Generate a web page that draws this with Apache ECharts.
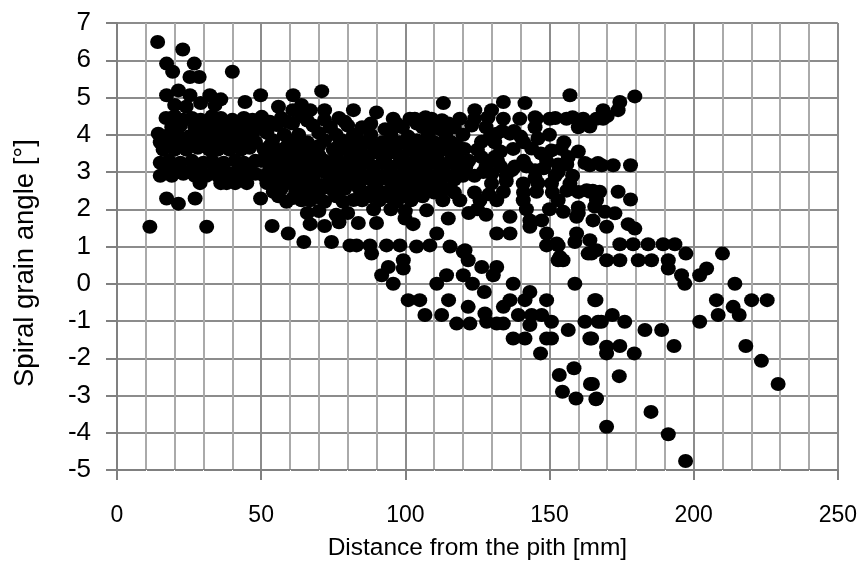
<!DOCTYPE html>
<html>
<head>
<meta charset="utf-8">
<script src="https://cdn.jsdelivr.net/npm/echarts@6/dist/echarts.min.js"></script>
<style>html,body{margin:0;padding:0;background:#fff}#c{width:860px;height:578px}</style>
</head>
<body>
<div id="c"></div>
<script>
// Tick settings
const xTicks = {min: 0, max: 250, step: 50, minorSplits: 5};
const yTicks = {min: -5, max: 7, step: 1};
const xTitle = 'Distance from the pith [mm]';
const yTitle = 'Spiral grain angle [°]';

// Points near the pith (0-50 mm)
const nearPith = [
[14.1,6.49],[22.8,6.29],[17.2,5.91],[19.3,5.69],[26.8,5.91],[25.3,5.55],[28.5,5.55],[40,5.69],
[17.2,5.06],[21.3,5.19],[25.3,5.06],[32.2,5.06],[44.4,4.88],
[20,4.8],[24,4.75],[29,4.85],[34,4.8],[36,4.95],
[17,4.45],[20,4.5],[23,4.4],[26,4.45],[29,4.4],[33,4.5],[36,4.45],[40,4.4],[44,4.45],[47,4.4],
[19,4.2],[22,4.25],[27,4.2],[31,4.2],[35,4.25],[38,4.2],[42,4.2],[46,4.25],[49,4.2],
[14.3,4.03],[18,4.0],[21,4.0],[25,3.95],[28,4.0],[32,4.0],[36,4.0],[39,3.95],[43,4.0],[47,4.0],
[15,3.8],[19,3.85],[23,3.8],[26,3.8],[30,3.85],[34,3.8],[37,3.8],[41,3.85],[45,3.8],[48,3.8],
[16,3.6],[20,3.6],[24,3.6],[28,3.65],[32,3.6],[35,3.6],[39,3.6],[43,3.6],[46,3.65],
[15,3.25],[18,3.3],[22,3.25],[26,3.3],[30,3.25],[33,3.3],[37,3.25],[41,3.3],[44,3.25],[48,3.3],
[17,3.05],[21,3.1],[25,3.0],[29,3.05],[34,3.1],[38,3.0],[42,3.05],[46,3.1],
[15,2.9],[19,2.9],[23,2.95],[27,2.9],[31,2.9],[35,2.9],[40,2.9],[44,2.9],[48,2.95],
[28.8,2.7],[36,2.7],[38,2.7],[41,2.7],[45,2.7],
[17.2,2.29],[21.3,2.15],[27.1,2.29],[49.8,2.29],[11.4,1.53],[31.1,1.53]
];

// Points 50-83 mm
const innerWood = [
[49.8,5.06],[61.1,5.06],[71,5.17],
[61,4.66],[67,4.66],[72,4.66],[82,4.66],[56,4.75],[64,4.8],
[50.2,4.48],[57,4.45],[64,4.5],[77,4.45],
[53,4.35],[59,4.35],[66,4.38],[72,4.4],[79,4.35],
[55.4,4.26],[60.9,4.3],[68,4.25],[74,4.2],[80,4.25],
[52,4.05],[58,4.0],[63,4.0],[70,4.05],[76,4.0],[82,4.0],
[54,3.85],[60,3.85],[66,3.8],[72,3.85],[78,3.85],
[53,3.7],[59,3.7],[64,3.72],[70,3.7],[77,3.72],[82,3.75],
[51,3.6],[57,3.6],[62,3.55],[68,3.6],[75,3.6],[80,3.6],
[53,3.45],[59,3.45],[64,3.45],[70,3.45],[76,3.45],[81,3.45],
[50,3.3],[55,3.35],[61,3.3],[66,3.3],[72,3.3],[78,3.25],[83,3.3],
[57,3.2],[63,3.2],[69,3.2],[74,3.2],[80,3.2],
[53,3.1],[59,3.1],[64,3.05],[70,3.1],[76,3.1],[81,3.1],
[55,3.0],[61,3.0],[66,3.0],[72,3.0],[78,3.0],
[51,2.9],[57,2.9],[63,2.9],[68,2.85],[74,2.9],[79,2.9],
[55,2.8],[62,2.8],[68,2.8],[74,2.8],[80,2.8],
[52,2.7],[60,2.7],[66,2.7],[71,2.65],[77,2.7],[82,2.7],
[57,2.55],[65,2.55],[72,2.58],[79,2.55],
[54.2,2.47],[62,2.47],[69,2.45],[75,2.5],
[56,2.35],[61,2.3],[70,2.32],[76,2.35],
[58.8,2.2],[64,2.24],[67,2.24],[72,2.2],[78.4,2.2],[82,2.25],
[66,1.9],[70,1.95],[76,1.85],[80,1.9],
[67,1.6],[72,1.55],[77,1.65],
[53.8,1.55],[59.4,1.35],[64.8,1.12],[74.4,1.12],[80.8,1.03]
];

// Points 83-122 mm
const middleWood = [
[90,4.6],[95.8,4.43],[101.6,4.43],[103.3,4.43],[109.1,4.43],[118.9,4.43],[113.2,4.85],[107,4.47],[112.7,4.39],
[88,4.3],[97,4.3],[104,4.3],[110,4.28],[115,4.3],
[85,4.2],[93,4.15],[99,4.2],[106,4.2],[112,4.15],[117,4.2],
[83,4.0],[88,4.0],[95,4.0],[101,3.95],[108,4.0],[114,4.0],[120,4.0],
[86,3.8],[92,3.8],[98,3.8],[104,3.85],[110,3.8],[116,3.8],
[89,3.7],[95,3.7],[101,3.7],[107,3.7],[113,3.72],[118,3.7],
[84,3.6],[90,3.6],[96,3.6],[102,3.6],[107,3.55],[113,3.6],
[85,3.5],[91,3.5],[97,3.5],[104,3.5],[110,3.5],[116,3.5],
[87,3.4],[93,3.4],[99,3.4],[105,3.4],[111,3.4],[118,3.4],
[86,3.25],[92,3.25],[98,3.25],[103,3.28],[109,3.25],[115,3.25],
[84,3.15],[89,3.15],[95,3.15],[101,3.15],[106,3.1],[113,3.15],[118,3.15],
[83,3.0],[89,3.0],[95,3.0],[100,3.02],[106,3.0],[112,3.0],[118,3.0],
[86,2.9],[92,2.9],[98,2.9],[103,2.95],[109,2.9],[115,2.9],[120,2.9],
[88,2.8],[94,2.8],[99,2.8],[105,2.8],[110,2.8],[117,2.8],
[84,2.7],[90,2.7],[96,2.7],[101,2.65],[107,2.7],[112,2.7],
[84,2.55],[90,2.55],[96,2.55],[102,2.55],[108,2.58],[114,2.55],
[87,2.45],[93,2.45],[99,2.5],[104,2.45],[110,2.45],[117,2.45],
[88,2.35],[94,2.35],[100,2.35],[106,2.35],
[85,2.24],[91,2.24],[97,2.2],[102,2.24],[113,2.24],[118.9,2.24],
[89,2.0],[95,2.0],[100,1.95],[107.4,1.97],[114.9,1.75],
[83.7,1.63],[90,1.63],[99.9,1.75],[102.7,1.6],[110.9,1.35],
[83.1,1.03],[87.7,1.03],[93.5,1.03],[98.1,1.03],[103.9,1.0],[108.5,1.03],[115.5,1.0],[120.7,0.9],
[88.3,0.81],[99.3,0.63],[99.3,0.41],[94.1,0.45],[91.8,0.23],[95.8,0.0],
[114.3,0.23],[110.9,0.0],[120.1,0.23],[120.1,0.86],[121.8,0.63],
[101,-0.44],[105,-0.44],[106.8,-0.84],[112.6,-0.84],[115,-0.44],[117.8,-1.07]
];

// Points 122-167 mm
const outerWood = [
[134,4.88],[141.5,4.85],[157.1,5.06],[124.1,4.66],[129.9,4.66],
[128.7,4.47],[145,4.47],[152,4.45],[158,4.47],
[124,4.43],[134,4.43],[139.7,4.43],[145.5,4.43],[150.1,4.43],[155.9,4.43],[161.7,4.43],[166.3,4.43],
[123,4.25],[128,4.2],[145,4.2],[160,4.2],
[133.6,4.1],[137.7,4.1],[129.1,3.9],[140,3.95],[146,3.9],
[131.7,4.03],[136.3,4.03],[150,4.0],
[126.4,3.81],[131,3.8],[141,3.8],[155,3.8],
[120.5,3.62],[125,3.6],[133,3.55],[154,3.62],[160,3.55],
[137.4,3.62],[143.8,3.63],[150.7,3.58],[147,3.5],
[126.4,3.4],[131,3.4],[156.5,3.4],
[122,3.3],[132,3.3],[141,3.3],[149,3.3],[156,3.2],
[162.3,3.24],[166.8,3.24],[121,3.15],[128,3.15],[133,3.15],[138,3.15],[142,3.15],[148,3.1],[153,3.2],
[127,3.0],[137,3.05],[145,3.05],[153,3.0],
[124,2.9],[130,2.95],[135,2.9],[145,2.85],[152,2.9],[158,2.9],
[135,2.75],[146,2.7],
[129.9,2.69],[140.9,2.69],[150.7,2.69],[157.1,2.69],[162.9,2.51],[134,2.47],[145.5,2.47],[160,2.46],
[124,2.45],[129,2.4],[141,2.45],[151,2.45],[156,2.5],[165,2.5],
[125.9,2.24],[131.7,2.24],[140.9,2.24],[153,2.24],[166.3,2.24],
[125,2.0],[142,2.0],[150,2.0],[160,2.05],
[122,1.9],[128,1.85],[160,1.9],
[136.3,1.8],[143.2,1.7],[147.3,1.7],[154.8,1.93],[159.4,1.8],[165.1,1.7],
[143.2,1.53],[131.7,1.35],[136.3,1.35],[149,1.35],[152.5,1.08],[159.4,1.35],[164,1.17],[166.3,0.9],[153.6,0.72],
[126.5,0.45],[131.7,0.45],[130.5,0.23],[123.3,0.0],[127.4,-0.22],[137.4,0.0],
[143.2,-0.22],[141.5,-0.44],[136.3,-0.44],[134,-0.62],[149,-0.44],[121.8,-0.62],
[122.4,-1.07],[127.6,-0.8],[128.2,-1.02],[131.7,-1.07],[134,-1.07],[139.2,-0.84],[143.8,-0.84],[147.3,-0.84],[143.2,-1.11],[150.7,-1.02],
[137.4,-1.47],[141.5,-1.47],[149,-1.47],[150.7,-1.47],[146.9,-1.87],[156.5,-1.24],[162.3,-1.02],[166.9,-1.02],[164,-1.47],[165.7,-0.44],
[158.8,0.0],[153,0.63],[154.7,0.63],[149,1.03],[153,1.03],[158.8,1.12],[163.4,0.81],
[153.4,-2.45],[158.5,-2.27],[154.5,-2.9],[159.2,-3.08],[164.2,-2.69],[166.3,-3.08]
];

// Points beyond 167 mm
const barkSide = [
[179.6,5.03],[174.4,4.88],[168.6,4.66],[173.8,4.66],[168.6,4.43],[170,4.5],[164,4.22],
[164,3.18],[168.1,3.18],[172.1,3.18],[178.1,3.18],
[164,2.47],[167.4,2.47],[173.8,2.47],[178.1,2.26],[165.7,2.07],[169.2,1.93],[172.7,1.89],[169.8,1.53],[177.3,1.6],[179.6,1.48],
[164.6,0.81],[169.8,0.63],[174.4,0.63],[180.8,0.63],[185.4,0.63],[174.4,1.06],[179,1.06],[184.2,1.06],[189.4,1.06],[193.5,1.06],
[191.2,0.63],[191.2,0.41],[195.8,0.23],[196.9,0],[197.3,0.81],[202.1,0.23],[204.5,0.41],[210,0.81],[214.3,0],
[166.1,-0.44],[207.9,-0.44],[208.5,-0.84],[213.7,-0.62],[215.8,-0.84],[220.1,-0.44],[225.5,-0.44],[202.1,-1.02],
[168,-1.02],[171.8,-0.84],[176.1,-1.02],[183.1,-1.24],[188.9,-1.24],[164.6,-1.47],[169.8,-1.69],[169.8,-1.87],[174.4,-1.67],[179.4,-1.87],[193.2,-1.67],
[174.2,-2.48],[164.9,-2.69],[166.1,-3.1],[169.8,-3.84],[185.2,-3.44],[191.2,-4.04],[197.2,-4.76],[218.1,-1.67],[223.5,-2.07],[229.3,-2.69]
];

const allPoints = [].concat(nearPith, innerWood, middleWood, outerWood, barkSide);

const labelFont = '"Liberation Sans", Arial, sans-serif';
const chart = echarts.init(document.getElementById('c'));
chart.setOption({
  animation: false,
  grid: {left: 117, right: 22, top: 23, bottom: 108},
  xAxis: {
    type: 'value', min: xTicks.min, max: xTicks.max, interval: xTicks.step,
    name: xTitle, nameLocation: 'middle', nameGap: 66,
    nameTextStyle: {fontFamily: labelFont, fontSize: 24.5, color: '#000'},
    axisLine: {show: true, onZero: false, lineStyle: {color: '#808080', width: 2}},
    axisTick: {show: true, inside: false, length: 10, lineStyle: {color: '#808080', width: 2}},
    axisLabel: {margin: 34, fontFamily: labelFont, fontSize: 23, color: '#000'},
    splitLine: {show: true, lineStyle: {color: '#8c8c8c', width: 2}},
    minorTick: {show: true, splitNumber: xTicks.minorSplits, length: 2, lineStyle: {color: '#ffffff', width: 1}},
    minorSplitLine: {show: true, lineStyle: {color: '#aaaaaa', width: 2}}
  },
  yAxis: {
    type: 'value', min: yTicks.min, max: yTicks.max, interval: yTicks.step,
    axisLine: {show: true, onZero: false, lineStyle: {color: '#808080', width: 2}},
    axisTick: {show: true, inside: false, length: 11, lineStyle: {color: '#808080', width: 2}},
    axisLabel: {margin: 26, fontFamily: labelFont, fontSize: 26, color: '#000'},
    splitLine: {show: true, lineStyle: {color: '#8c8c8c', width: 2}}
  },
  graphic: [{
    type: 'text', x: 25, y: 263, rotation: Math.PI / 2,
    style: {text: yTitle, fontFamily: labelFont, fontSize: 27.5, fill: '#000', align: 'center', verticalAlign: 'middle'}
  }],
  series: [{
    type: 'scatter',
    data: allPoints,
    symbol: 'circle',
    symbolSize: [15, 14],
    itemStyle: {color: '#000000', opacity: 1},
    silent: true
  }]
});
</script>
</body>
</html>
